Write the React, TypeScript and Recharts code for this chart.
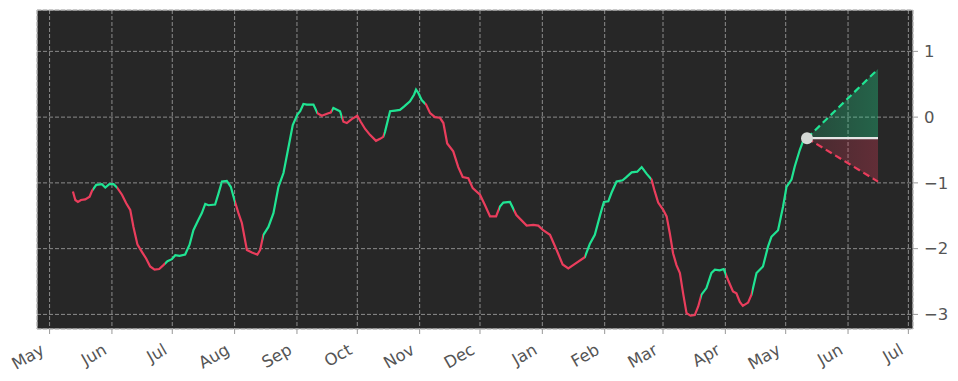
import { Area, CartesianGrid, ComposedChart, Line, ReferenceArea, XAxis, YAxis } from 'recharts';

// x = days since 1 May (year 1), y = oscillator value
const oscDays = [
  11.6, 12.8, 14.1, 15.6, 17.7, 19.9, 21.1, 23.2, 26.0, 27.7, 29.7, 31.8, 33.5, 36.0, 38.1, 40.1, 41.7,
  43.7, 45.9, 48.0, 50.0, 52.2, 54.5, 56.6, 58.6, 60.8, 62.5, 64.6, 67.4, 69.6, 71.5, 74.0, 75.7, 77.4,
  79.0, 82.3, 84.0, 85.7, 88.1, 90.1, 91.9, 93.9, 95.6, 98.1, 100.6, 103.3, 104.7, 106.3, 108.8, 111.3,
  113.8, 116.3, 118.2, 120.9, 123.2, 124.6, 126.2, 127.9, 131.2, 133.2, 135.3, 138.6, 139.8, 141.1,
  144.4, 146.1, 147.8, 150.2, 153.0, 154.7, 156.9, 159.3, 162.3, 164.3, 165.9, 166.8, 169.3, 171.8,
  174.2, 176.2, 179.2, 181.2, 182.2, 183.3, 185.0, 187.2, 189.2, 191.6, 194.1, 195.8, 197.7, 200.7,
  203.2, 205.4, 208.2, 210.4, 214.0, 216.5, 219.0, 222.0, 223.9, 225.6, 228.9, 232.1, 237.2, 240.5,
  243.0, 245.4, 248.8, 252.1, 255.1, 257.9, 260.3, 266.1, 268.6, 271.1, 274.0, 275.6, 277.8, 279.4,
  281.9, 284.9, 286.5, 289.4, 292.2, 294.4, 296.8, 299.3, 300.9, 302.6, 305.1, 306.8, 308.4, 310.0,
  311.7, 313.4, 315.0, 316.7, 318.7, 320.8, 322.5, 324.1, 326.6, 329.1, 330.8, 333.2, 335.2, 337.4,
  339.8, 341.5, 343.2, 344.7, 347.3, 349.0, 351.5, 354.7, 357.2, 358.9, 362.2, 364.7, 366.4, 368.9,
  370.5, 373.0, 374.6, 376.6,
];
const oscValues = [
  -1.13, -1.26, -1.29, -1.26, -1.25, -1.21, -1.12, -1.03, -1.02, -1.07, -1.02, -1.02, -1.07, -1.18, -1.31,
  -1.41, -1.67, -1.94, -2.05, -2.15, -2.27, -2.32, -2.31, -2.25, -2.19, -2.16, -2.1, -2.11, -2.09, -1.94,
  -1.72, -1.56, -1.46, -1.32, -1.34, -1.33, -1.16, -0.98, -0.97, -1.06, -1.26, -1.46, -1.61, -2.02, -2.06,
  -2.09, -2.02, -1.79, -1.67, -1.46, -1.06, -0.85, -0.55, -0.12, 0.04, 0.09, 0.2, 0.19, 0.19, 0.06, 0.02,
  0.06, 0.07, 0.14, 0.09, -0.07, -0.09, -0.03, 0.02, -0.07, -0.18, -0.27, -0.36, -0.33, -0.3, -0.22, 0.09,
  0.1, 0.11, 0.16, 0.24, 0.34, 0.42, 0.37, 0.26, 0.19, 0.06, 0.0, -0.01, -0.09, -0.4, -0.52, -0.76, -0.91,
  -0.93, -1.08, -1.18, -1.34, -1.51, -1.51, -1.36, -1.3, -1.29, -1.49, -1.65, -1.64, -1.65, -1.72, -1.79,
  -2.02, -2.24, -2.3, -2.25, -2.13, -1.93, -1.79, -1.46, -1.29, -1.28, -1.15, -0.98, -0.96, -0.92, -0.84,
  -0.83, -0.76, -0.86, -0.95, -1.13, -1.3, -1.41, -1.51, -1.77, -2.07, -2.25, -2.37, -2.68, -2.98, -3.02,
  -3.01, -2.88, -2.7, -2.6, -2.37, -2.32, -2.33, -2.31, -2.48, -2.65, -2.68, -2.81, -2.87, -2.82, -2.7,
  -2.37, -2.27, -1.97, -1.82, -1.72, -1.36, -1.06, -0.95, -0.75, -0.5, -0.37, -0.32,
];
// days where the line colour flips; first stretch is red (falling)
const flipDays = [21.5, 33.5, 57.5, 92, 106, 133, 140.5, 145.5, 166.5, 186.5, 223.5, 231, 266, 299, 324, 336.5, 349];

const forecastDays = [376.6, 411.9];
const forecastMid = [-0.32, -0.32];
const forecastHigh = [-0.32, 0.73];
const forecastLow = [-0.32, -0.98];

const monthTicks = [0, 31, 61, 92, 123, 153, 184, 214, 245, 276, 305, 336, 366, 397, 427];
const monthLabels = ['May', 'Jun', 'Jul', 'Aug', 'Sep', 'Oct', 'Nov', 'Dec', 'Jan', 'Feb', 'Mar', 'Apr', 'May', 'Jun', 'Jul'];
const yTicks = [-3, -2, -1, 0, 1];

const GREEN = '#20e493';
const RED = '#ea3d5c';
const FONT = 'DejaVu Sans, sans-serif';
const FONT_SIZE = 16.5;
const X_DOMAIN: [number, number] = [-6.26, 429.3];
const Y_DOMAIN: [number, number] = [-3.222, 1.629];

const histData = oscDays.map((day, i) => ({ day, osc: oscValues[i] }));
const forecastData = forecastDays.map((day, i) => ({
  day,
  mid: forecastMid[i],
  high: forecastHigh[i],
  low: forecastLow[i],
  upBand: [forecastMid[i], forecastHigh[i]],
  downBand: [forecastLow[i], forecastMid[i]],
}));

// hard colour stops along the line's bounding box
function lineStops() {
  const x0 = oscDays[0];
  const span = oscDays[oscDays.length - 1] - x0;
  const stops: Array<{ offset: number; color: string }> = [];
  let color = RED;
  stops.push({ offset: 0, color });
  flipDays.forEach((d) => {
    const off = (d - x0) / span;
    stops.push({ offset: off, color });
    color = color === RED ? GREEN : RED;
    stops.push({ offset: off, color });
  });
  stops.push({ offset: 1, color });
  return stops;
}

function MonthTick(props: any) {
  const { x, y, payload } = props;
  const label = monthLabels[monthTicks.indexOf(payload.value)];
  const ax = x - 4;
  const ay = y + 17;
  return (
    <text x={ax} y={ay} transform={`rotate(-30, ${ax}, ${ay})`} textAnchor="end" fill="#555" fontSize={FONT_SIZE} fontFamily={FONT}>
      {label}
    </text>
  );
}

const fmtY = (v: number) => (v < 0 ? `\u2212${Math.abs(v)}` : `${v}`);

export default function App() {
  return (
    <div style={{ position: 'absolute', left: 0, top: 0, background: '#fff' }}>
      <ComposedChart width={958} height={381} margin={{ top: 10, left: 37, right: 0, bottom: 0 }}>
        <defs>
          <linearGradient id="oscStroke" x1="0" y1="0" x2="1" y2="0">
            {lineStops().map((s, i) => (
              <stop key={i} offset={s.offset} stopColor={s.color} />
            ))}
          </linearGradient>
          <linearGradient id="upFill" x1="0" y1="0" x2="1" y2="0">
            <stop offset="0" stopColor={GREEN} stopOpacity={0.18} />
            <stop offset="1" stopColor={GREEN} stopOpacity={0.32} />
          </linearGradient>
          <linearGradient id="downFill" x1="0" y1="0" x2="1" y2="0">
            <stop offset="0" stopColor={RED} stopOpacity={0.16} />
            <stop offset="1" stopColor={RED} stopOpacity={0.3} />
          </linearGradient>
        </defs>
        <CartesianGrid fill="#272727" stroke="#8c8c8c" strokeDasharray="4 2" />
        <XAxis
          type="number"
          dataKey="day"
          domain={X_DOMAIN}
          ticks={monthTicks}
          allowDataOverflow
          height={52}
          tickSize={5}
          tickMargin={2}
          axisLine={false}
          tickLine={{ stroke: '#999' }}
          tick={<MonthTick />}
          interval={0}
        />
        <YAxis
          type="number"
          orientation="right"
          domain={Y_DOMAIN}
          ticks={yTicks}
          allowDataOverflow
          width={45}
          tickSize={5}
          tickMargin={6}
          axisLine={false}
          tickLine={{ stroke: '#999' }}
          tickFormatter={fmtY}
          tick={{ fill: '#555', fontSize: FONT_SIZE, fontFamily: FONT, textAnchor: 'start' }}
        />
        <ReferenceArea x1={X_DOMAIN[0]} x2={X_DOMAIN[1]} y1={Y_DOMAIN[0]} y2={Y_DOMAIN[1]} fill="none" stroke="#cfcfcf" strokeWidth={1} fillOpacity={0} />
        <Area data={forecastData} dataKey="upBand" stroke="none" fill="url(#upFill)" fillOpacity={1} isAnimationActive={false} />
        <Area data={forecastData} dataKey="downBand" stroke="none" fill="url(#downFill)" fillOpacity={1} isAnimationActive={false} />
        <Line data={histData} dataKey="osc" type="linear" stroke="url(#oscStroke)" strokeWidth={2.2} dot={false} isAnimationActive={false} />
        <Line data={forecastData} dataKey="high" type="linear" stroke={GREEN} strokeWidth={2.2} strokeDasharray="7 4" dot={false} isAnimationActive={false} />
        <Line data={forecastData} dataKey="low" type="linear" stroke={RED} strokeWidth={2.2} strokeDasharray="7 4" dot={false} isAnimationActive={false} />
        <Line
          data={forecastData}
          dataKey="mid"
          type="linear"
          stroke="#e6e6e6"
          strokeWidth={2.2}
          isAnimationActive={false}
          dot={(p: any) => (p.index === 0 ? <circle key="d" cx={p.cx} cy={p.cy} r={6} fill="#d6d9d6" /> : <g key={`n${p.index}`} />)}
        />
      </ComposedChart>
    </div>
  );
}
